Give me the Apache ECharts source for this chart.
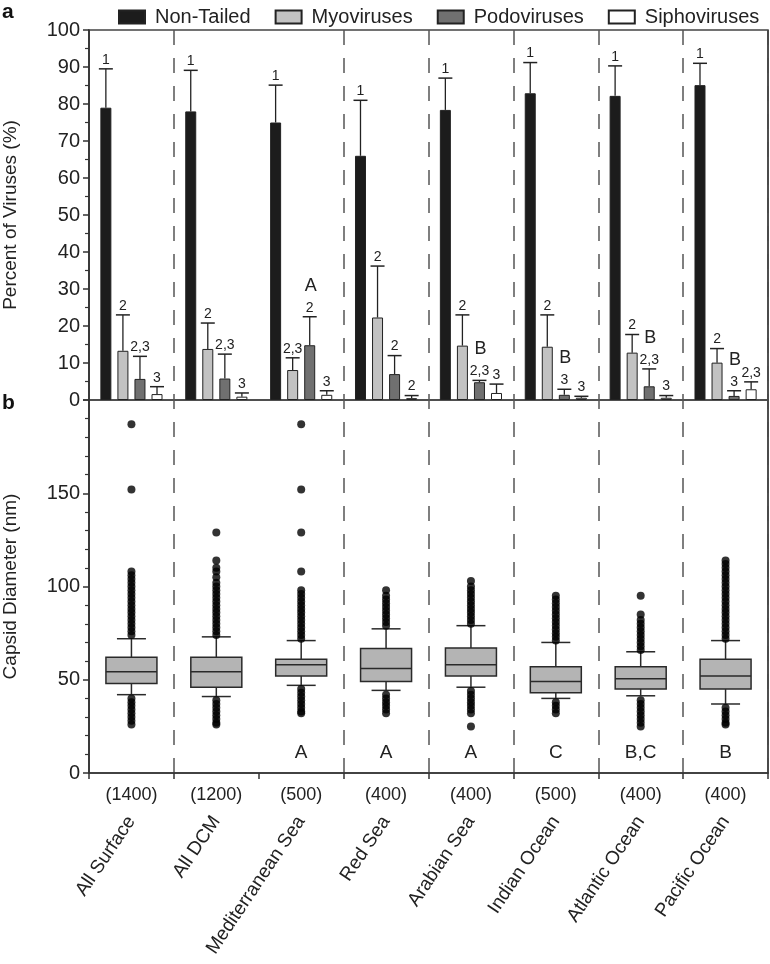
<!DOCTYPE html>
<html>
<head>
<meta charset="utf-8">
<script src="https://cdn.jsdelivr.net/npm/echarts@6/dist/echarts.min.js"></script>
<style>
html,body{margin:0;padding:0;background:#fff;}
#chart{width:770px;height:964px;}
</style>
</head>
<body>
<div id="chart"></div>
<script>
// ---------- DATA ----------
const categories = ['All Surface','All DCM','Mediterranean Sea','Red Sea','Arabian Sea','Indian Ocean','Atlantic Ocean','Pacific Ocean'];
const counts = ['(1400)','(1200)','(500)','(400)','(400)','(500)','(400)','(400)'];
const seriesNames = ['Non-Tailed','Myoviruses','Podoviruses','Siphoviruses'];

// Panel a: percent of viruses (bar value) and upper error bar end
const nonTailed    = [79.0, 78.0, 75.0, 66.0, 78.4, 82.9, 82.2, 85.1];
const nonTailedErr = [89.5, 89.1, 85.1, 81.0, 87.0, 91.2, 90.3, 91.0];
const myo          = [13.3, 13.8, 8.1, 22.3, 14.7, 14.4, 12.8, 10.1];
const myoErr       = [23.0, 20.8, 11.4, 36.2, 23.0, 23.0, 17.7, 13.9];
const podo         = [5.7, 5.8, 14.8, 7.0, 4.8, 1.4, 3.7, 1.1];
const podoErr      = [11.8, 12.4, 22.5, 12.0, 5.3, 2.9, 8.4, 2.5];
const sipho        = [1.6, 0.9, 1.4, 0.5, 1.9, 0.6, 0.6, 2.9];
const siphoErr     = [3.6, 1.9, 2.5, 1.2, 4.3, 1.0, 1.2, 4.9];

// significance labels
const nonTailedSig = ['1','1','1','1','1','1','1','1'];
const myoSig       = ['2','2','2,3','2','2','2','2','2'];
const podoSig      = ['2,3','2,3','2','2','2,3','3','2,3','3'];
const siphoSig     = ['3','3','3','2','3','3','3','2,3'];
const groupLettersA = ['','','A','','B','B','B','B'];

// Panel b: capsid diameter boxplots [lower whisker, Q1, median, Q3, upper whisker]
const boxStats = [
  [42, 48, 54.3, 62, 72],
  [41, 46, 54.3, 62, 73],
  [47, 52, 58, 61, 71],
  [44.3, 49, 56, 66.7, 77.3],
  [46, 52, 58, 67, 79],
  [40, 43, 49, 57, 70],
  [41.4, 45, 50.5, 57, 65],
  [37, 45, 52, 61, 71]
];
const outliersAllSurface = [74,76,78,80,82,84,86,88,90,92,94,96,98,100,102,104,106,108,152,187, 40,38,36,34,32,30,28,26];
const outliersAllDCM     = [74,76,78,80,82,84,86,88,90,92,94,96,98,100,102,105,108,110,114,129, 39,37,35,33,31,29,27,26];
const outliersMed        = [72,74,76,78,80,82,84,86,88,90,92,94,96,98,108,129,152,187, 45,43,41,39,37,35,33,32];
const outliersRed        = [79,81,83,85,87,89,91,93,95,98, 42,40,38,36,34,32];
const outliersArabian    = [80,82,84,86,88,90,92,94,96,98,100,103, 44,42,40,38,36,34,32,25];
const outliersIndian     = [71,73,75,77,79,81,83,85,87,89,91,93,95, 38,36,34,32];
const outliersAtlantic   = [66,68,70,72,74,76,78,80,82,85,95, 39,37,35,33,31,29,27,25];
const outliersPacific    = [72,74,76,78,80,82,84,86,88,90,92,94,96,98,100,102,104,106,108,110,112,114, 35,33,31,29,27,26];
const boxLetters = ['','','A','A','A','C','B,C','B'];

// ---------- BUILD ----------
const FONT = '"Liberation Sans", Arial, Helvetica, sans-serif';
const TXT = '#222';
const AX = '#333';
const BAR_W = 11, BAR_GAP = 0.55;
const fills = ['#1c1c1c', '#c2c2c2', '#707070', '#ffffff'];
const barVals = [nonTailed, myo, podo, sipho];
const errVals = [nonTailedErr, myoErr, podoErr, siphoErr];
const sigVals = [nonTailedSig, myoSig, podoSig, siphoSig];
const outlierLists = [outliersAllSurface, outliersAllDCM, outliersMed, outliersRed, outliersArabian, outliersIndian, outliersAtlantic, outliersPacific];

function barOffset(s){ return (s - 1.5) * BAR_W * (1 + BAR_GAP); }

const series = [];
seriesNames.forEach((name, s) => {
  series.push({
    name, type: 'bar', xAxisIndex: 0, yAxisIndex: 0,
    barWidth: BAR_W, barGap: (BAR_GAP*100)+'%',
    itemStyle: { color: fills[s], borderColor: '#222', borderWidth: 1 },
    data: barVals[s], z: 3
  });
});
// error bars + significance labels
seriesNames.forEach((name, s) => {
  series.push({
    type: 'custom', xAxisIndex: 0, yAxisIndex: 0, z: 4, silent: true,
    data: categories.map((c, i) => [i, errVals[s][i], barVals[s][i], sigVals[s][i]]),
    renderItem(params, api) {
      const i = api.value(0);
      const top = api.coord([i, api.value(1)]);
      const base = api.coord([i, api.value(2)]);
      const x = top[0] + barOffset(s);
      return { type: 'group', children: [
        { type: 'line', shape: { x1: x, y1: base[1], x2: x, y2: top[1] }, style: { stroke: '#222', lineWidth: 1.3 } },
        { type: 'line', shape: { x1: x - 7, y1: top[1], x2: x + 7, y2: top[1] }, style: { stroke: '#222', lineWidth: 1.5 } },
        { type: 'text', x: x, y: top[1] - 2, style: { text: sigVals[s][i], font: '14px ' + FONT, fill: TXT, align: 'center', verticalAlign: 'bottom' } }
      ]};
    }
  });
});
// group letters (A / B) in panel a, placed above the Podoviruses error bar
series.push({
  type: 'custom', xAxisIndex: 0, yAxisIndex: 0, z: 4, silent: true,
  data: categories.map((c, i) => [i, podoErr[i]]),
  renderItem(params, api) {
    const i = api.value(0);
    const L = groupLettersA[i];
    if (!L) return null;
    const p = api.coord([i, api.value(1)]);
    return { type: 'text', x: p[0] + barOffset(2) + 1, y: p[1] - 31, style: { text: L, font: '18px ' + FONT, fill: TXT, align: 'center', verticalAlign: 'middle' } };
  }
});
// boxplots
series.push({
  type: 'custom', xAxisIndex: 1, yAxisIndex: 1, z: 3, silent: true,
  data: boxStats.map((b, i) => [i].concat(b)),
  renderItem(params, api) {
    const i = api.value(0);
    const y = k => api.coord([i, api.value(k)])[1];
    const x = api.coord([i, 0])[0];
    const hw = 25.5, cw = 14.5;
    const yLo = y(1), yQ1 = y(2), yMed = y(3), yQ3 = y(4), yHi = y(5);
    const st = { stroke: '#2a2a2a', lineWidth: 1.5 };
    return { type: 'group', children: [
      { type: 'line', shape: { x1: x, y1: yHi, x2: x, y2: yQ3 }, style: st },
      { type: 'line', shape: { x1: x, y1: yQ1, x2: x, y2: yLo }, style: st },
      { type: 'line', shape: { x1: x - cw, y1: yHi, x2: x + cw, y2: yHi }, style: st },
      { type: 'line', shape: { x1: x - cw, y1: yLo, x2: x + cw, y2: yLo }, style: st },
      { type: 'rect', shape: { x: x - hw, y: yQ3, width: 2 * hw, height: yQ1 - yQ3 }, style: { fill: '#b4b4b4', stroke: '#2a2a2a', lineWidth: 1.5 } },
      { type: 'line', shape: { x1: x - hw, y1: yMed, x2: x + hw, y2: yMed }, style: st }
    ]};
  }
});
// outliers
const outlierData = [];
outlierLists.forEach((arr, i) => arr.forEach(v => outlierData.push([i, v])));
series.push({
  type: 'scatter', xAxisIndex: 1, yAxisIndex: 1, z: 4, silent: true,
  symbol: 'circle', symbolSize: 8,
  itemStyle: { color: '#000' },
  data: outlierData
});
// box letters
series.push({
  type: 'custom', xAxisIndex: 1, yAxisIndex: 1, z: 4, silent: true,
  data: categories.map((c, i) => [i, 0]),
  renderItem(params, api) {
    const i = api.value(0);
    if (!boxLetters[i]) return null;
    const p = api.coord([i, 0]);
    return { type: 'text', x: p[0], y: p[1] - 20, style: { text: boxLetters[i], font: '19px ' + FONT, fill: TXT, align: 'center', verticalAlign: 'middle' } };
  }
});

const L = 89, W = 679;
const option = {
  animation: false,
  backgroundColor: '#fff',
  textStyle: { fontFamily: FONT },
  legend: {
    data: seriesNames, top: 2, left: 113, itemWidth: 26, itemHeight: 13, itemGap: 24,
    icon: 'rect',
    textStyle: { fontSize: 20, color: TXT, fontFamily: FONT, padding: [0, 0, 0, 5] }
  },
  graphic: [
    { type: 'text', left: 2, top: 2, style: { text: 'a', font: 'bold 21px ' + FONT, fill: '#111' } },
    { type: 'text', left: 2, top: 393, style: { text: 'b', font: 'bold 21px ' + FONT, fill: '#111' } }
  ],
  grid: [
    { left: L, top: 30, width: W, height: 370, show: true, borderColor: '#444', borderWidth: 1.5, containLabel: false, outerBoundsMode: 'none' },
    { left: L, top: 400, width: W, height: 373, show: true, borderColor: '#444', borderWidth: 1.5, containLabel: false, outerBoundsMode: 'none' },
    { left: L, top: 30, width: W, height: 743, containLabel: false, outerBoundsMode: 'none' }
  ],
  xAxis: [
    { type: 'category', gridIndex: 0, data: categories, axisLine: { show: false }, axisTick: { show: false }, axisLabel: { show: false } },
    { type: 'category', gridIndex: 1, data: counts, position: 'bottom',
      axisLine: { show: true, lineStyle: { color: AX, width: 1.5 } },
      axisTick: { show: true, length: 6, interval: 0, lineStyle: { color: AX, width: 1.5 } },
      axisLabel: { interval: 0, fontSize: 18, color: TXT, margin: 13 } },
    { type: 'category', gridIndex: 1, data: categories, position: 'bottom', offset: 37,
      axisLine: { show: false }, axisTick: { show: false },
      axisLabel: { interval: 0, rotate: 56, fontSize: 19, color: TXT, margin: 8 } },
    { type: 'category', gridIndex: 2, data: categories, axisLine: { show: false }, axisTick: { show: false }, axisLabel: { show: false },
      splitLine: { show: true, interval: (idx) => idx !== 0 && idx !== 2, lineStyle: { color: '#555', width: 1.5, type: [15, 13] } } },
    { type: 'category', gridIndex: 2, data: categories, axisLine: { show: false }, axisTick: { show: false }, axisLabel: { show: false },
      splitLine: { show: true, interval: (idx) => idx === 2, lineStyle: { color: '#444', width: 1.5, type: 'solid' } } }
  ],
  yAxis: [
    { type: 'value', gridIndex: 0, min: 0, max: 100, interval: 10,
      name: 'Percent of Viruses (%)', nameLocation: 'middle', nameGap: 69,
      nameTextStyle: { fontSize: 19, color: TXT },
      axisLine: { show: true, lineStyle: { color: AX, width: 1.5 } },
      axisTick: { show: true, length: 6, lineStyle: { color: AX, width: 1.5 } },
      minorTick: { show: true, splitNumber: 2, length: 4, lineStyle: { color: AX, width: 1.2 } },
      splitLine: { show: false },
      axisLabel: { fontSize: 20, color: TXT, margin: 9 } },
    { type: 'value', gridIndex: 1, min: 0, max: 200, interval: 50,
      name: 'Capsid Diameter (nm)', nameLocation: 'middle', nameGap: 69,
      nameTextStyle: { fontSize: 19, color: TXT },
      axisLine: { show: true, lineStyle: { color: AX, width: 1.5 } },
      axisTick: { show: true, length: 6, lineStyle: { color: AX, width: 1.5 } },
      minorTick: { show: true, splitNumber: 5, length: 4, lineStyle: { color: AX, width: 1.2 } },
      splitLine: { show: false },
      axisLabel: { fontSize: 20, color: TXT, margin: 9, formatter: v => (v === 200 ? '' : String(v)) } },
    { type: 'value', gridIndex: 2, show: false, min: 0, max: 1 }
  ],
  series
};
const chart = echarts.init(document.getElementById('chart'), null, { renderer: 'canvas' });
chart.setOption(option);
</script>
</body>
</html>
